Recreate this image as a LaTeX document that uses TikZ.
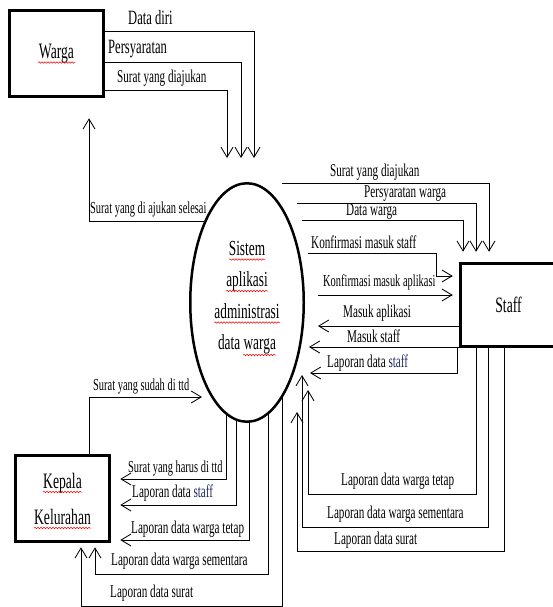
\documentclass[tikz,border=0pt]{standalone}
\usepackage{fontspec}
\setmainfont{Liberation Serif}[FakeStretch=0.62]
\usetikzlibrary{shapes,arrows.meta,calc,backgrounds,decorations.pathmorphing}

\definecolor{staffblue}{HTML}{1C2A66}
\tikzset{
  ent/.style={draw, line width=3.5pt, minimum width=94, minimum height=86, align=center, font=\fontsize{22}{36}\selectfont},
  proc/.style={draw, ellipse, fill=white, line width=2.5pt, inner sep=0pt, minimum width=113.5, minimum height=238.5, align=center, text depth=14.5pt, font=\fontsize{21.5}{31.5}\selectfont},
  flow/.style={-{Straight Barb[length=10pt,width=12pt]}, line width=0.85pt},
  lbl/.style={anchor=base west, inner sep=0pt, font=\fontsize{18}{20}\selectfont},
  lbls/.style={lbl, font=\fontsize{16.8}{18}\selectfont},
  lblb/.style={lbl, font=\fontsize{20.3}{22}\selectfont},
  spell/.style={red, line width=0.5pt, decorate, decoration={snake, amplitude=0.8pt, segment length=3pt}}
}

\begin{document}
\begin{tikzpicture}[x=1pt, y=-1pt]
  \useasboundingbox (0,0) rectangle (553,607);
  % Nodes
  \node[ent] (warga) at (56.5,53.5) {Warga};
  \node[proc] (sys) at (247,302.5) {Sistem\\aplikasi\\administrasi\\data warga};
  \node[ent, minimum width=96, minimum height=83] (staff) at (508.5,305) {Staff};
  \node[ent] (kepala) at (62.5,498.5) {Kepala\\Kelurahan};
  % spelling marks
  \draw[spell] (38,62.5) -- (75,62.5);
  \draw[spell] (229,259.5) -- (265,259.5);
  \draw[spell] (226,291) -- (268,291);
  \draw[spell] (214,322.5) -- (280,322.5);
  \draw[spell] (243,355) -- (276,355);
  \draw[spell] (43,492) -- (82,492);
  \draw[spell] (34,528) -- (91,528);
  % Edges: Warga
  \draw[flow] (warga.east |- 0,31) -| ($(sys.north)+(7,-24)$);
  \draw[flow] (warga.east |- 0,62) -| ($(sys.north)+(-6,-24)$);
  \draw[flow] (warga.east |- 0,90) -| ($(sys.north)+(-20,-24)$);
  \draw[flow] (sys.118) -| ($(warga.south)+(32.5,20)$);
  \node[lblb] (t1) at (128,25) {Data diri};
  \node[lblb] (t2) at (108,54) {Persyaratan};
  \node[lbl] (t3) at (117,83) {Surat yang diajukan};
  \node[lbls] (t4) at (90,213) {Surat yang di ajukan selesai};
  % Edges: Staff
  \draw[flow] ($(sys.north)+(35,1)$) -| ($(staff.north)+(-19.5,-10)$);
  \draw[flow] ($(sys.north)+(50,21)$) -| ($(staff.north)+(-32.5,-10)$);
  \draw[flow] ($(sys.north)+(55,38)$) -| ($(staff.north)+(-45.5,-10)$);
  \draw[flow] ($(sys.east)+(3,-49.5)$) -| ($(staff.west)+(-22,-29)$) -- ($(staff.west)+(-6,-29)$);
  \draw[flow] ($(sys.east)+(13,-7.5)$) -- ($(staff.west)+(-6,-10)$);
  \draw[flow] ($(staff.west)+(0,21)$) -- ($(sys.east)+(13,23.5)$);
  \draw[flow] ($(staff.west)+(0,42)$) -- ($(sys.east)+(4,44.5)$);
  \draw[flow] ($(staff.south west)+(-1,0)$) |- ($(sys.east)+(5,70.5)$);
  \draw[flow] ($(staff.south)+(-32.5,0)$) |- ($(sys.east)+(3,191.5)$) -- ($(sys.east)+(3,87.5)$);
  \draw[flow] ($(staff.south)+(-20.5,0)$) |- ($(sys.east)+(-3,224.5)$) -- ($(sys.east)+(-3,72.5)$);
  \draw[flow] ($(staff.south)+(-4.5,0)$) |- ($(sys.east)+(-8,248.5)$) -- ($(sys.east)+(-8,109.5)$);
  \node[lbl] (t5) at (330,176) {Surat yang diajukan};
  \node[lbl] (t6) at (364,197) {Persyaratan warga};
  \node[lbl] (t7) at (346,215) {Data warga};
  \node[lbl] (t8) at (311,248) {Konfirmasi masuk staff};
  \node[lbls] (t9) at (323,286) {Konfirmasi masuk aplikasi};
  \node[lbl] (t10) at (343,317) {Masuk aplikasi};
  \node[lbl] (t11) at (347,342) {Masuk staff};
  \node[lbl] (t12) at (327,367) {Laporan data \textcolor{staffblue}{staff}};
  \node[lbl] (t13) at (341,485) {Laporan data warga tetap};
  \node[lbl] (t14) at (327,518) {Laporan data warga sementara};
  \node[lbl] (t15) at (334,544) {Laporan data surat};
  % Edges: Kepala Kelurahan
  \draw[flow] ($(kepala.north)+(26.5,0)$) |- ($(sys.center)+(-45,94.5)$);
  \begin{pgfonlayer}{background}
    \draw[flow] ($(sys.center)+(-21,78)$) |- ($(kepala.east)+(9,-19.5)$);
    \draw[flow] ($(sys.center)+(-11,78)$) |- ($(kepala.east)+(9,6.5)$);
    \draw[flow] ($(sys.center)+(2,78)$) |- ($(kepala.east)+(9,41.5)$);
    \draw[flow] ($(sys.center)+(21,78)$) |- ($(kepala.south)+(32.5,31)$) -- ($(kepala.south)+(32.5,4)$);
    \draw[flow] ($(sys.center)+(35,78)$) |- ($(kepala.south)+(18.5,63)$) -- ($(kepala.south)+(18.5,4)$);
  \end{pgfonlayer}
  \node[lbls] (t16) at (93,390) {Surat yang sudah di ttd};
  \node[lbls] (t17) at (128,472) {Surat yang harus di ttd};
  \node[lbl] (t18) at (132,497) {Laporan data \textcolor{staffblue}{staff}};
  \node[lbl] (t19) at (131,533) {Laporan data warga tetap};
  \node[lbl] (t20) at (111,565) {Laporan data warga sementara};
  \node[lbl] (t21) at (110,597) {Laporan data surat};
\end{tikzpicture}
\end{document}
